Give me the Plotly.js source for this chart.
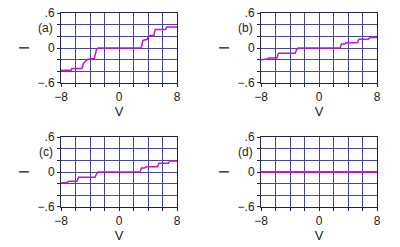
<!DOCTYPE html>
<html><head><meta charset="utf-8">
<script src="https://cdn.plot.ly/plotly-3.0.1.min.js"></script>
<style>html,body{margin:0;padding:0;background:#fff}#g{width:400px;height:247px}</style>
</head><body><div id="g"></div>
<script>
// Panel labels
const panelLabels = ['(a)', '(b)', '(c)', '(d)'];
// Curve (a)
const xa = [-8, -6.6, -6.5, -5.1, -4.9, -4.5, -4.3, -3.4, -3.3, -3.1, -2.9, 2.9, 3.1, 3.3, 3.9, 4.1, 4.8, 5.0, 6.4, 6.6, 8];
const ya = [-0.38, -0.38, -0.35, -0.35, -0.26, -0.22, -0.19, -0.18, -0.12, -0.02, 0, 0, 0.02, 0.13, 0.15, 0.21, 0.22, 0.32, 0.32, 0.36, 0.36];
// Curve (b)
const xb = [-8, -7.2, -6.9, -5.8, -5.6, -3.3, -3.1, -2.9, 2.9, 3.1, 3.5, 3.8, 5.3, 5.5, 6.8, 7.0, 8];
const yb = [-0.2, -0.19, -0.17, -0.17, -0.09, -0.09, -0.03, 0, 0, 0.07, 0.07, 0.09, 0.09, 0.15, 0.15, 0.18, 0.18];
// Curve (c)
const xc = [-8, -7.2, -6.9, -5.8, -5.6, -3.3, -3.1, -2.9, 2.9, 3.1, 3.5, 3.8, 5.3, 5.5, 6.8, 7.0, 8];
const yc = [-0.19, -0.18, -0.16, -0.16, -0.09, -0.09, -0.03, 0, 0, 0.07, 0.07, 0.09, 0.09, 0.15, 0.15, 0.19, 0.19];
// Curve (d)
const xd = [-8, 8];
const yd = [0, 0];

const xTickVals = [-8, -6, -4, -2, 0, 2, 4, 6, 8];
const xTickText = ['\u22128', '', '', '', '0', '', '', '', '8'];
const yTickVals = [-0.6, -0.4, -0.2, 0, 0.2, 0.4, 0.6];
const yTickText = ['\u2212.6', '', '', '0', '', '', '.6'];

const xs = [xa, xb, xc, xd], ys = [ya, yb, yc, yd];
const font = {family: 'Liberation Sans, Arial, sans-serif', size: 12, color: '#222'};
const gridColor = '#4444aa';
const frameColor = '#20205a';

const xDom = [[0.1525, 0.4425], [0.6525, 0.9425], [0.1525, 0.4425], [0.6525, 0.9425]];
const yDom = [[0.664, 0.947], [0.664, 0.947], [0.162, 0.445], [0.162, 0.445]];

const data = [], annotations = [], layout = {
  width: 400, height: 247, margin: {l: 0, r: 0, t: 0, b: 0},
  paper_bgcolor: '#fff', plot_bgcolor: '#fff', showlegend: false, font: font
};
for (let i = 0; i < 4; i++) {
  const s = i === 0 ? '' : String(i + 1);
  data.push({x: xs[i], y: ys[i], xaxis: 'x' + s, yaxis: 'y' + s, mode: 'lines',
    line: {color: '#cc11cc', width: i === 3 ? 2 : 1.5}, hoverinfo: 'skip'});
  layout['xaxis' + s] = {domain: xDom[i], range: [-8, 8], anchor: 'y' + s,
    tickmode: 'array', tickvals: xTickVals, ticktext: xTickText,
    showgrid: true, gridcolor: gridColor, gridwidth: 1, zeroline: false,
    showline: true, linecolor: frameColor, linewidth: 1, mirror: true,
    ticks: 'outside', ticklen: 3, tickcolor: frameColor, tickfont: font,
    title: {text: 'V', font: {family: font.family, size: 13, color: '#222'}, standoff: 0}};
  layout['yaxis' + s] = {domain: yDom[i], range: [-0.6, 0.6], anchor: 'x' + s,
    tickmode: 'array', tickvals: yTickVals, ticktext: yTickText,
    showgrid: true, gridcolor: gridColor, gridwidth: 1, zeroline: false,
    showline: true, linecolor: frameColor, linewidth: 1, mirror: true,
    ticks: 'outside', ticklen: 3, tickcolor: frameColor, tickfont: font};
  // panel label, right-aligned with the tick labels
  annotations.push({xref: 'x' + s + ' domain', yref: 'y' + s, x: 0, y: 0.35, xshift: -6,
    xanchor: 'right', yanchor: 'middle', text: panelLabels[i], showarrow: false, font: font});
  // y title "I" (rotated)
  annotations.push({xref: 'paper', yref: 'y' + s, x: (xDom[i][0] * 400 - 38) / 400, y: 0,
    xanchor: 'center', yanchor: 'middle', text: 'I', textangle: -90, showarrow: false,
    font: {family: font.family, size: 15, color: '#222'}});
}
layout.annotations = annotations;
Plotly.newPlot('g', data, layout, {staticPlot: true});
</script></body></html>
